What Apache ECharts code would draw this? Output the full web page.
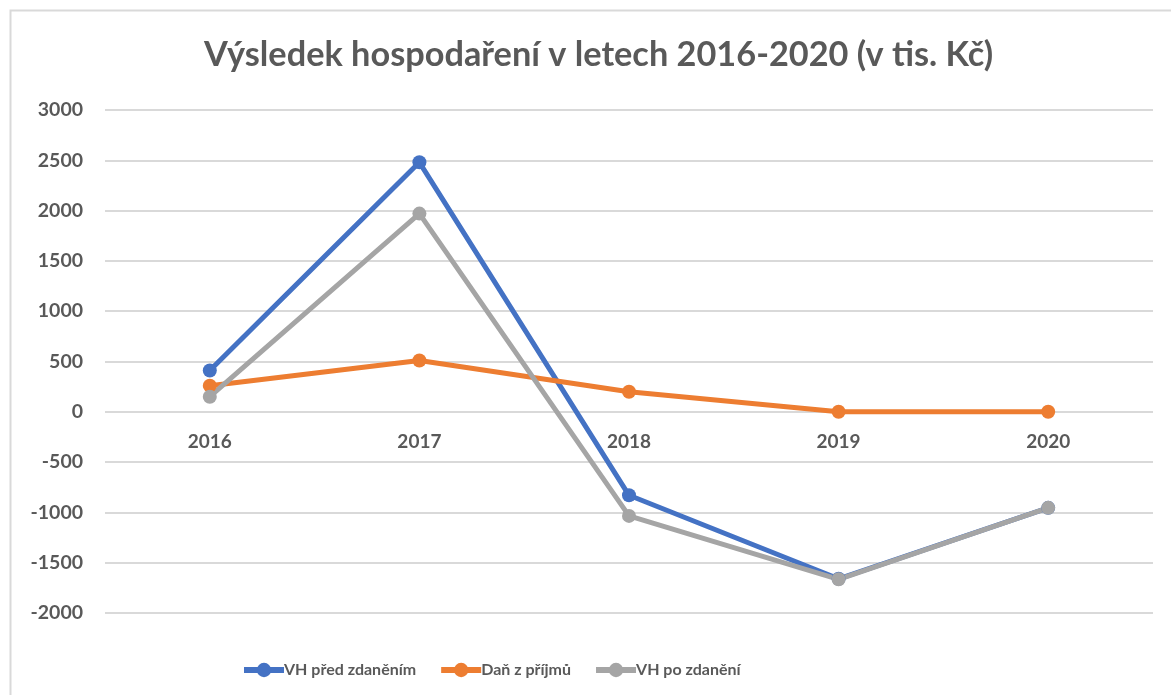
<!DOCTYPE html>
<html>
<head>
<meta charset="utf-8">
<script src="https://cdn.jsdelivr.net/npm/echarts@6/dist/echarts.min.js"></script>
<style>
  html, body { margin: 0; padding: 0; background: #fff; }
  #chart { width: 1171px; height: 695px; }
</style>
</head>
<body>
<div id="chart"></div>
<script>
// data (tis. Kč)
const years = ["2016", "2017", "2018", "2019", "2020"];
const vhPred = [410, 2480, -830, -1660, -955];
const dan = [260, 510, 200, 0, 0];
const vhPo = [150, 1970, -1035, -1665, -955];

const font = "Lato";
const textColor = "#595959";

function lineSeries(name, data, color) {
  return {
    name: name,
    type: "line",
    data: data,
    symbol: "circle",
    symbolSize: 14,
    lineStyle: { width: 5, color: color },
    itemStyle: { color: color },
    emphasis: { disabled: true },
  };
}

const chart = echarts.init(document.getElementById("chart"));
chart.setOption({
  animation: false,
  textStyle: { fontFamily: font },
  title: {
    text: "Výsledek hospodaření v letech 2016-2020 (v tis. Kč)",
    left: 199,
    top: 33,
    textStyle: { fontFamily: font, fontSize: 34.3, fontWeight: "bold", color: textColor },
  },
  graphic: [
    {
      type: "rect",
      shape: { x: 10.5, y: 10.5, width: 1300, height: 800 },
      style: { fill: "none", stroke: "#d9d9d9", lineWidth: 2 },
      silent: true,
    },
  ],
  legend: {
    bottom: 17,
    left: 241,
    padding: 0,
    itemWidth: 40,
    itemHeight: 18,
    itemGap: 22,
    lineStyle: { width: 6 },
    textStyle: { fontFamily: font, fontSize: 16, fontWeight: "bold", color: textColor, padding: [0, 0, 0, -5] },
    data: ["VH před zdaněním", "Daň z příjmů", "VH po zdanění"],
  },
  grid: { left: 105, right: 18, top: 110, bottom: 82 },
  xAxis: {
    type: "category",
    data: years,
    // shift the axis up to the zero line (-2000 sits 202px below 0)
    offset: -202,
    axisLine: { show: false },
    axisTick: { show: false },
    axisLabel: { margin: 21, fontSize: 19, fontWeight: "bold", color: textColor, fontFamily: font },
  },
  yAxis: {
    type: "value",
    min: -2000,
    max: 3000,
    interval: 500,
    axisLine: { show: false },
    axisTick: { show: false },
    axisLabel: {
      margin: 22,
      fontSize: 19.5,
      fontWeight: "bold",
      color: textColor,
      fontFamily: font,
      formatter: (v) => String(v),
    },
    splitLine: { lineStyle: { color: "#d9d9d9", width: 2 } },
  },
  series: [
    lineSeries("VH před zdaněním", vhPred, "#4472c4"),
    lineSeries("Daň z příjmů", dan, "#ed7d31"),
    lineSeries("VH po zdanění", vhPo, "#a5a5a5"),
  ],
});
</script>
</body>
</html>
